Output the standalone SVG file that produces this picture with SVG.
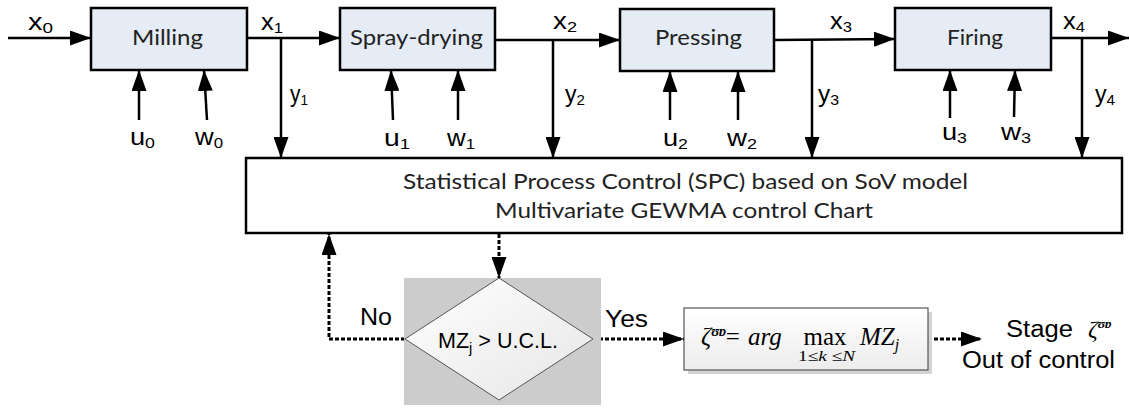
<svg xmlns="http://www.w3.org/2000/svg" width="1129" height="408" viewBox="0 0 1129 408">
<defs>
<marker id="ah" markerUnits="userSpaceOnUse" markerWidth="21" markerHeight="15" refX="21" refY="7.5" orient="auto"><path d="M0,0 L21,7.5 L0,15 z" fill="#000"/></marker>
<linearGradient id="dg" x1="0" y1="0" x2="1" y2="1"><stop offset="0" stop-color="#ffffff"/><stop offset="1" stop-color="#e6e6e6"/></linearGradient>
<linearGradient id="fg" x1="0" y1="0" x2="0" y2="1"><stop offset="0" stop-color="#ffffff"/><stop offset="1" stop-color="#ececec"/></linearGradient>
</defs>
<style>
.box{fill:#e6ecf5;stroke:#000;stroke-width:2.5}
.bt{font-family:Lato,"Open Sans",sans-serif;font-size:21px;fill:#222;text-anchor:middle}
.st{font-family:Lato,"Open Sans",sans-serif;font-size:21px;fill:#222;text-anchor:middle}
.lb{font-family:"Liberation Sans",Arial,sans-serif;font-size:23px;fill:#000}
.sub{font-size:15px}
.ln{stroke:#000;stroke-width:2.5;fill:none}
.dl{stroke:#000;stroke-width:3;fill:none;stroke-dasharray:4 2}
.mt{font-family:"Liberation Serif","Times New Roman",serif;font-style:italic;fill:#000}
</style>
<g id="connectors">
<line class="ln" x1="8" y1="38" x2="91" y2="38" marker-end="url(#ah)"/>
<line class="ln" x1="247" y1="38" x2="340" y2="38" marker-end="url(#ah)"/>
<line class="ln" x1="495" y1="40" x2="620" y2="40" marker-end="url(#ah)"/>
<line class="ln" x1="774" y1="40" x2="895" y2="39" marker-end="url(#ah)"/>
<line class="ln" x1="1051" y1="38" x2="1129" y2="38" marker-end="url(#ah)"/>
<line class="ln" x1="281" y1="38" x2="281" y2="158" marker-end="url(#ah)"/>
<line class="ln" x1="553" y1="40" x2="553" y2="158" marker-end="url(#ah)"/>
<line class="ln" x1="812" y1="40" x2="812" y2="158" marker-end="url(#ah)"/>
<line class="ln" x1="1082" y1="38" x2="1082" y2="158" marker-end="url(#ah)"/>
<line class="ln" x1="139" y1="120" x2="139" y2="70" marker-end="url(#ah)"/>
<line class="ln" x1="207" y1="120" x2="204" y2="70" marker-end="url(#ah)"/>
<line class="ln" x1="393" y1="120" x2="391" y2="70" marker-end="url(#ah)"/>
<line class="ln" x1="458" y1="120" x2="458" y2="70" marker-end="url(#ah)"/>
<line class="ln" x1="670" y1="120" x2="670" y2="71" marker-end="url(#ah)"/>
<line class="ln" x1="738" y1="120" x2="738" y2="71" marker-end="url(#ah)"/>
<line class="ln" x1="950" y1="118" x2="950" y2="70" marker-end="url(#ah)"/>
<line class="ln" x1="1014" y1="117" x2="1015" y2="70" marker-end="url(#ah)"/>
<path class="dl" d="M405,339 H329 V234" marker-end="url(#ah)"/>
<line class="dl" x1="499" y1="234" x2="499" y2="278" marker-end="url(#ah)"/>
<line class="dl" x1="593" y1="339" x2="684" y2="339" marker-end="url(#ah)"/>
<line class="dl" x1="928" y1="339" x2="982" y2="339" marker-end="url(#ah)"/>
</g>
<g id="labels">
<text class="lb" x="28" y="30" textLength="25" lengthAdjust="spacingAndGlyphs">x<tspan class="sub" dy="3">0</tspan></text>
<text class="lb" x="261" y="30" textLength="22" lengthAdjust="spacingAndGlyphs">x<tspan class="sub" dy="3">1</tspan></text>
<text class="lb" x="553" y="29" textLength="24" lengthAdjust="spacingAndGlyphs">x<tspan class="sub" dy="3">2</tspan></text>
<text class="lb" x="830" y="29" textLength="22" lengthAdjust="spacingAndGlyphs">x<tspan class="sub" dy="3">3</tspan></text>
<text class="lb" x="1063" y="29" textLength="22" lengthAdjust="spacingAndGlyphs">x<tspan class="sub" dy="3">4</tspan></text>
<text class="lb" x="290" y="102" textLength="18" lengthAdjust="spacingAndGlyphs">y<tspan class="sub" dy="3">1</tspan></text>
<text class="lb" x="565" y="102" textLength="20" lengthAdjust="spacingAndGlyphs">y<tspan class="sub" dy="3">2</tspan></text>
<text class="lb" x="818" y="102" textLength="21" lengthAdjust="spacingAndGlyphs">y<tspan class="sub" dy="3">3</tspan></text>
<text class="lb" x="1095" y="102" textLength="20" lengthAdjust="spacingAndGlyphs">y<tspan class="sub" dy="3">4</tspan></text>
<text class="lb" x="130" y="145" textLength="25" lengthAdjust="spacingAndGlyphs">u<tspan class="sub" dy="3">0</tspan></text>
<text class="lb" x="195" y="145" textLength="28" lengthAdjust="spacingAndGlyphs">w<tspan class="sub" dy="3">0</tspan></text>
<text class="lb" x="384" y="146" textLength="26" lengthAdjust="spacingAndGlyphs">u<tspan class="sub" dy="3">1</tspan></text>
<text class="lb" x="447" y="146" textLength="28" lengthAdjust="spacingAndGlyphs">w<tspan class="sub" dy="3">1</tspan></text>
<text class="lb" x="663" y="146" textLength="25" lengthAdjust="spacingAndGlyphs">u<tspan class="sub" dy="3">2</tspan></text>
<text class="lb" x="727" y="146" textLength="30" lengthAdjust="spacingAndGlyphs">w<tspan class="sub" dy="3">2</tspan></text>
<text class="lb" x="942" y="140" textLength="25" lengthAdjust="spacingAndGlyphs">u<tspan class="sub" dy="3">3</tspan></text>
<text class="lb" x="1001" y="140" textLength="30" lengthAdjust="spacingAndGlyphs">w<tspan class="sub" dy="3">3</tspan></text>
<text class="lb" x="360" y="325" textLength="32" lengthAdjust="spacingAndGlyphs">No</text>
<text class="lb" x="605" y="327" textLength="43" lengthAdjust="spacingAndGlyphs">Yes</text>
</g>
<g id="milling"><rect class="box" x="91" y="8" width="156" height="62"/><text class="bt" x="167.5" y="45" textLength="71" lengthAdjust="spacingAndGlyphs">Milling</text></g>
<g id="spray-drying"><rect class="box" x="340" y="8" width="155" height="62"/><text class="bt" x="416.5" y="45" textLength="133" lengthAdjust="spacingAndGlyphs">Spray-drying</text></g>
<g id="pressing"><rect class="box" x="620" y="9" width="154" height="62"/><text class="bt" x="698.5" y="45" textLength="87" lengthAdjust="spacingAndGlyphs">Pressing</text></g>
<g id="firing"><rect class="box" x="895" y="8" width="156" height="62"/><text class="bt" x="975" y="45" textLength="56" lengthAdjust="spacingAndGlyphs">Firing</text></g>
<g id="spc"><rect x="246" y="158" width="876" height="75" fill="#fff" stroke="#000" stroke-width="2.5"/>
<text class="st" x="685.5" y="189" textLength="565" lengthAdjust="spacingAndGlyphs">Statistical Process Control (SPC) based on SoV model</text>
<text class="st" x="684" y="218" textLength="378" lengthAdjust="spacingAndGlyphs">Multivariate GEWMA control Chart</text></g>
<g id="decision"><rect x="404" y="278" width="197" height="127" fill="#cccccc"/>
<path d="M499,278 L593,339 L499,400 L405,339 z" fill="url(#dg)" stroke="#555" stroke-width="1"/>
<text class="lb" x="438" y="348" textLength="120" lengthAdjust="spacingAndGlyphs" style="font-size:22px">MZ<tspan class="sub" dy="5">j</tspan><tspan dy="-5"> &gt; U.C.L.</tspan></text></g>
<g id="argmax"><rect x="688" y="312" width="244" height="62" fill="#d4d4d4"/>
<rect x="684" y="308" width="244" height="62" fill="url(#fg)" stroke="#555" stroke-width="1.2"/>
<text class="mt" x="701" y="345" font-size="25">ζ<tspan font-size="14" font-weight="bold" dy="-9">ʊɒ</tspan><tspan dy="9" font-style="normal">=</tspan></text>
<text class="mt" x="748" y="345" font-size="25">arg</text>
<text x="825" y="345" font-family="Liberation Serif,serif" font-size="25" text-anchor="middle">max</text>
<text class="mt" x="798" y="361" font-size="15" textLength="57" lengthAdjust="spacingAndGlyphs"><tspan font-style="normal">1</tspan>≤<tspan>k</tspan> ≤<tspan>N</tspan></text>
<text class="mt" x="860" y="345" font-size="25">MZ<tspan font-size="16" dy="5">j</tspan></text></g>
<g id="stage">
<text class="lb" x="1006" y="337" textLength="67" lengthAdjust="spacingAndGlyphs">Stage</text>
<text class="mt" x="1088" y="337" font-size="24">ζ<tspan font-size="13" font-weight="bold" dy="-9">ʊɒ</tspan></text>
<text class="lb" x="962" y="368" textLength="153" lengthAdjust="spacingAndGlyphs">Out of control</text></g>
</svg>
